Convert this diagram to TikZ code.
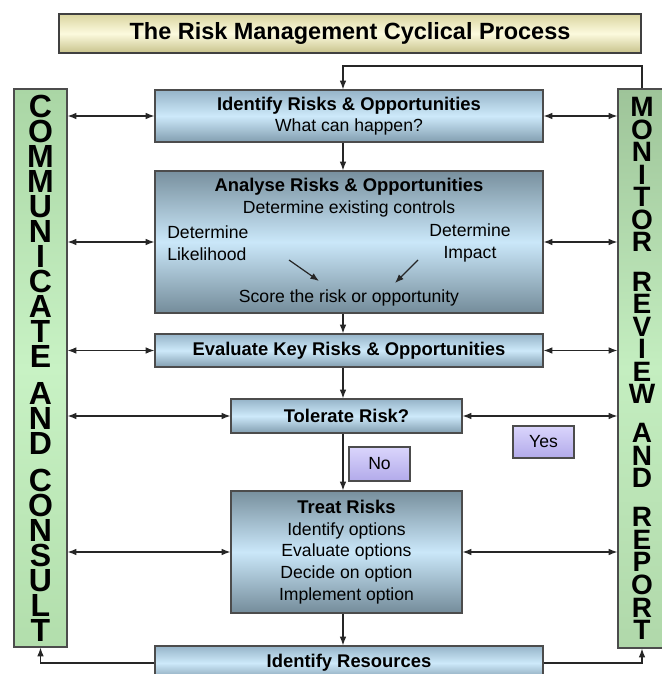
\documentclass[tikz,border=0pt]{standalone}
\usepackage{fontspec}
\setmainfont{Liberation Sans}
\usetikzlibrary{arrows.meta}
\definecolor{titleTop}{RGB}{218,213,160}
\definecolor{titleMid}{RGB}{252,250,222}
\definecolor{titleBot}{RGB}{200,195,140}
\definecolor{stepTop}{RGB}{150,180,200}
\definecolor{stepMid}{RGB}{205,233,250}
\definecolor{stepBot}{RGB}{130,158,176}
\definecolor{deepTop}{RGB}{120,144,158}
\definecolor{deepMid}{RGB}{202,231,249}
\definecolor{deepBot}{RGB}{116,140,154}
\definecolor{tagTop}{RGB}{218,213,252}
\definecolor{tagBot}{RGB}{178,170,234}
\definecolor{commTop}{RGB}{170,214,165}
\definecolor{commMid}{RGB}{200,242,196}
\definecolor{commBot}{RGB}{178,222,172}
\definecolor{monTop}{RGB}{158,196,153}
\definecolor{monMid}{RGB}{196,238,192}
\definecolor{monBot}{RGB}{176,216,170}
\newcommand\bodyfont{\fontsize{13.2}{16.2}\selectfont}
\newcommand\headfont{\fontsize{13.8}{16.2}\selectfont\bfseries}

\begin{document}
\begin{tikzpicture}[x=0.75pt, y=-0.75pt,
    >={Latex[length=6.5pt,width=5pt]},
    link/.style={draw=black!85, line width=0.9pt},
    stepbox/.style={draw=black!70, line width=1pt, inner sep=0pt, align=center, font=\bodyfont,
      top color=stepTop, bottom color=stepBot, middle color=stepMid},
    deepbox/.style={stepbox, top color=deepTop, bottom color=deepBot, middle color=deepMid},
    tagbox/.style={draw=black!70, line width=1pt, inner sep=0pt, font=\bodyfont,
      minimum width=45.75pt, top color=tagTop, bottom color=tagBot},
    sidebar/.style={draw=black!70, line width=1pt, inner sep=0pt, align=center}]
  \useasboundingbox (0,0) rectangle (661,674);

  % heading
  \node[draw=black!75, line width=1pt, minimum width=436.5pt, minimum height=29.25pt,
    top color=titleTop, bottom color=titleBot, middle color=titleMid,
    font=\fontsize{17.6}{20}\selectfont\bfseries] (title) at (350,33.5) {The Risk Management Cyclical Process};

  % side bars
  \node[sidebar, minimum width=39.75pt, minimum height=418.5pt,
    top color=commTop, bottom color=commBot, middle color=commMid,
    font=\fontsize{24}{18.75}\selectfont\bfseries] (comm) at (40.5,368)
    {C\\O\\M\\M\\U\\N\\I\\C\\A\\T\\E\\[9pt]A\\N\\D\\[9pt]C\\O\\N\\S\\U\\L\\T};
  \node[sidebar, minimum width=36pt, minimum height=419.25pt,
    top color=monTop, bottom color=monBot, middle color=monMid,
    font=\fontsize{21}{16.9}\selectfont\bfseries] (monitor) at (642,368.5)
    {M\\O\\N\\I\\T\\O\\R\\[12.4pt]R\\E\\V\\I\\E\\W\\[12.4pt]A\\N\\D\\[12.4pt]R\\E\\P\\O\\R\\T};

  % process steps
  \node[stepbox, minimum width=291pt, minimum height=39pt] (ident) at (349,116)
    {{\headfont Identify Risks \& Opportunities}\\What can happen?};
  \node[deepbox, minimum width=291pt, minimum height=106.5pt] (analyse) at (349,242) {};
  \node[stepbox, minimum width=291pt, minimum height=24.75pt, font=\headfont] (evaluate) at (349,350.5)
    {Evaluate Key Risks \& Opportunities};
  \node[stepbox, minimum width=173.25pt, minimum height=25.5pt, font=\headfont] (tolerate) at (346.5,416)
    {Tolerate Risk?};
  \node[deepbox, minimum width=173.25pt, minimum height=91.5pt] (treat) at (346.5,552)
    {{\headfont Treat Risks}\\Identify options\\Evaluate options\\Decide on option\\Implement option};
  \node[stepbox, minimum width=291pt, minimum height=25.5pt, font=\headfont] (resources) at (349,663)
    {Identify Resources};

  % inside the analysis step
  \node[font=\headfont] (anaHead) at (349,187) {Analyse Risks \& Opportunities};
  \node[font=\bodyfont] (anaCtrl) at (349,209) {Determine existing controls};
  \node[font=\bodyfont, align=left, anchor=west, inner sep=0pt] (anaLike) at (167,243) {Determine\\Likelihood};
  \node[font=\bodyfont, align=center] (anaImpact) at (470,243) {Determine\\Impact};
  \node[font=\bodyfont] (anaScore) at (349,298) {Score the risk or opportunity};
  \coordinate (likeFrom) at (289,260);
  \coordinate (likeTo) at (319,281);
  \coordinate (impFrom) at (418,260);
  \coordinate (impTo) at (395,283);
  \draw[link,->] (likeFrom) -- (likeTo);
  \draw[link,->] (impFrom) -- (impTo);

  % answers
  \node[tagbox, minimum height=25.5pt] (no) at (379.5,464) {No};
  \node[tagbox, minimum height=24pt] (yes) at (543.5,442) {Yes};

  % main flow
  \coordinate (spine) at (343,0);
  \coordinate (loop) at (343,66);
  \draw[link,->] (monitor.north) |- (loop) -- (ident.north -| loop);
  \draw[link,->] (ident.south -| spine) -- (analyse.north -| spine);
  \draw[link,->] (analyse.south -| spine) -- (evaluate.north -| spine);
  \draw[link,->] (evaluate.south -| spine) -- (tolerate.north -| spine);
  \draw[link,->] (tolerate.south -| spine) -- (treat.north -| spine);
  \draw[link,->] (treat.south -| spine) -- (resources.north -| spine);

  % links to the side bars
  \draw[link,<->] (comm.east |- ident.west) -- (ident.west);
  \draw[link,<->] (comm.east |- analyse.west) -- (analyse.west);
  \draw[link,<->] (comm.east |- evaluate.west) -- (evaluate.west);
  \draw[link,<->] (comm.east |- tolerate.west) -- (tolerate.west);
  \draw[link,<->] (comm.east |- treat.west) -- (treat.west);
  \draw[link,<->] (ident.east) -- (ident.east -| monitor.west);
  \draw[link,<->] (analyse.east) -- (analyse.east -| monitor.west);
  \draw[link,<->] (evaluate.east) -- (evaluate.east -| monitor.west);
  \draw[link,<->] (tolerate.east) -- (tolerate.east -| monitor.west);
  \draw[link,<->] (treat.east) -- (treat.east -| monitor.west);
  \draw[link,->] (resources.west) -| (comm.south);
  \draw[link,->] (resources.east) -| (monitor.south);
\end{tikzpicture}
\end{document}
